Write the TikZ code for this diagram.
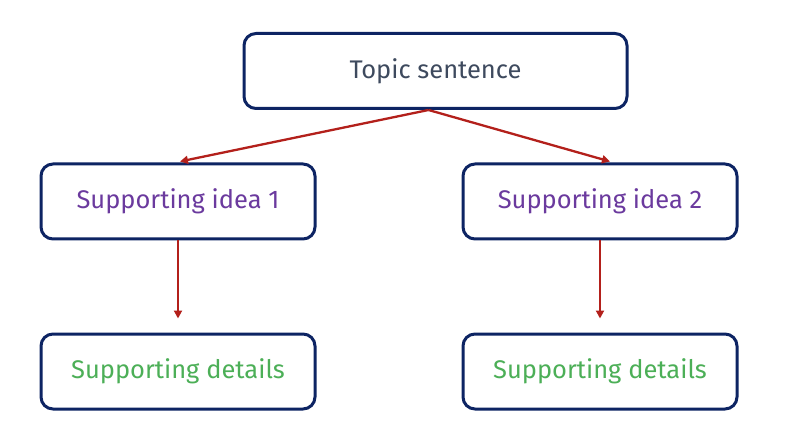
\documentclass[tikz,border=0pt]{standalone}
\usepackage{fontspec}
\setmainfont{Fira Sans}
\usetikzlibrary{arrows.meta,calc}
\definecolor{boxline}{HTML}{0D2463}
\definecolor{arrowred}{HTML}{B3201B}
\definecolor{topictext}{HTML}{3E4A5E}
\definecolor{ideatext}{HTML}{6B3A9E}
\definecolor{detailtext}{HTML}{4CAF57}
\begin{document}
\begin{tikzpicture}[x=1pt,y=1pt,
  box/.style={draw=boxline,line width=3pt,rounded corners=12pt,fill=white,
    minimum width=274pt,minimum height=75pt,inner sep=0pt,
    font=\fontsize{25.5}{30}\selectfont},
  link/.style={draw=arrowred,line width=2.3pt,-{Triangle[length=8pt,width=8pt]}}]
\useasboundingbox (0,0) rectangle (800,442);
\node[box,minimum width=383pt,text=topictext] (topic) at (435.5,371) {Topic sentence};
\node[box,text=ideatext] (idea1) at (178,240.5) {Supporting idea 1};
\node[box,text=ideatext] (idea2) at (600,240.5) {Supporting idea 2};
\node[box,text=detailtext] (det1) at (178,70.5) {Supporting details};
\node[box,text=detailtext] (det2) at (600,70.5) {Supporting details};
\coordinate (src) at ($(topic.south)+(-7,0)$);
\coordinate (t1) at ($(idea1.north)+(2,1)$);
\coordinate (t2) at ($(idea2.north)+(10,1)$);
\coordinate (e1) at ($(det1.north)+(0,14)$);
\coordinate (e2) at ($(det2.north)+(0,14)$);
\draw[link] (src) -- (t1);
\draw[link] (src) -- (t2);
\draw[link] (idea1.south) -- (e1);
\draw[link] (idea2.south) -- (e2);
\end{tikzpicture}
\end{document}
